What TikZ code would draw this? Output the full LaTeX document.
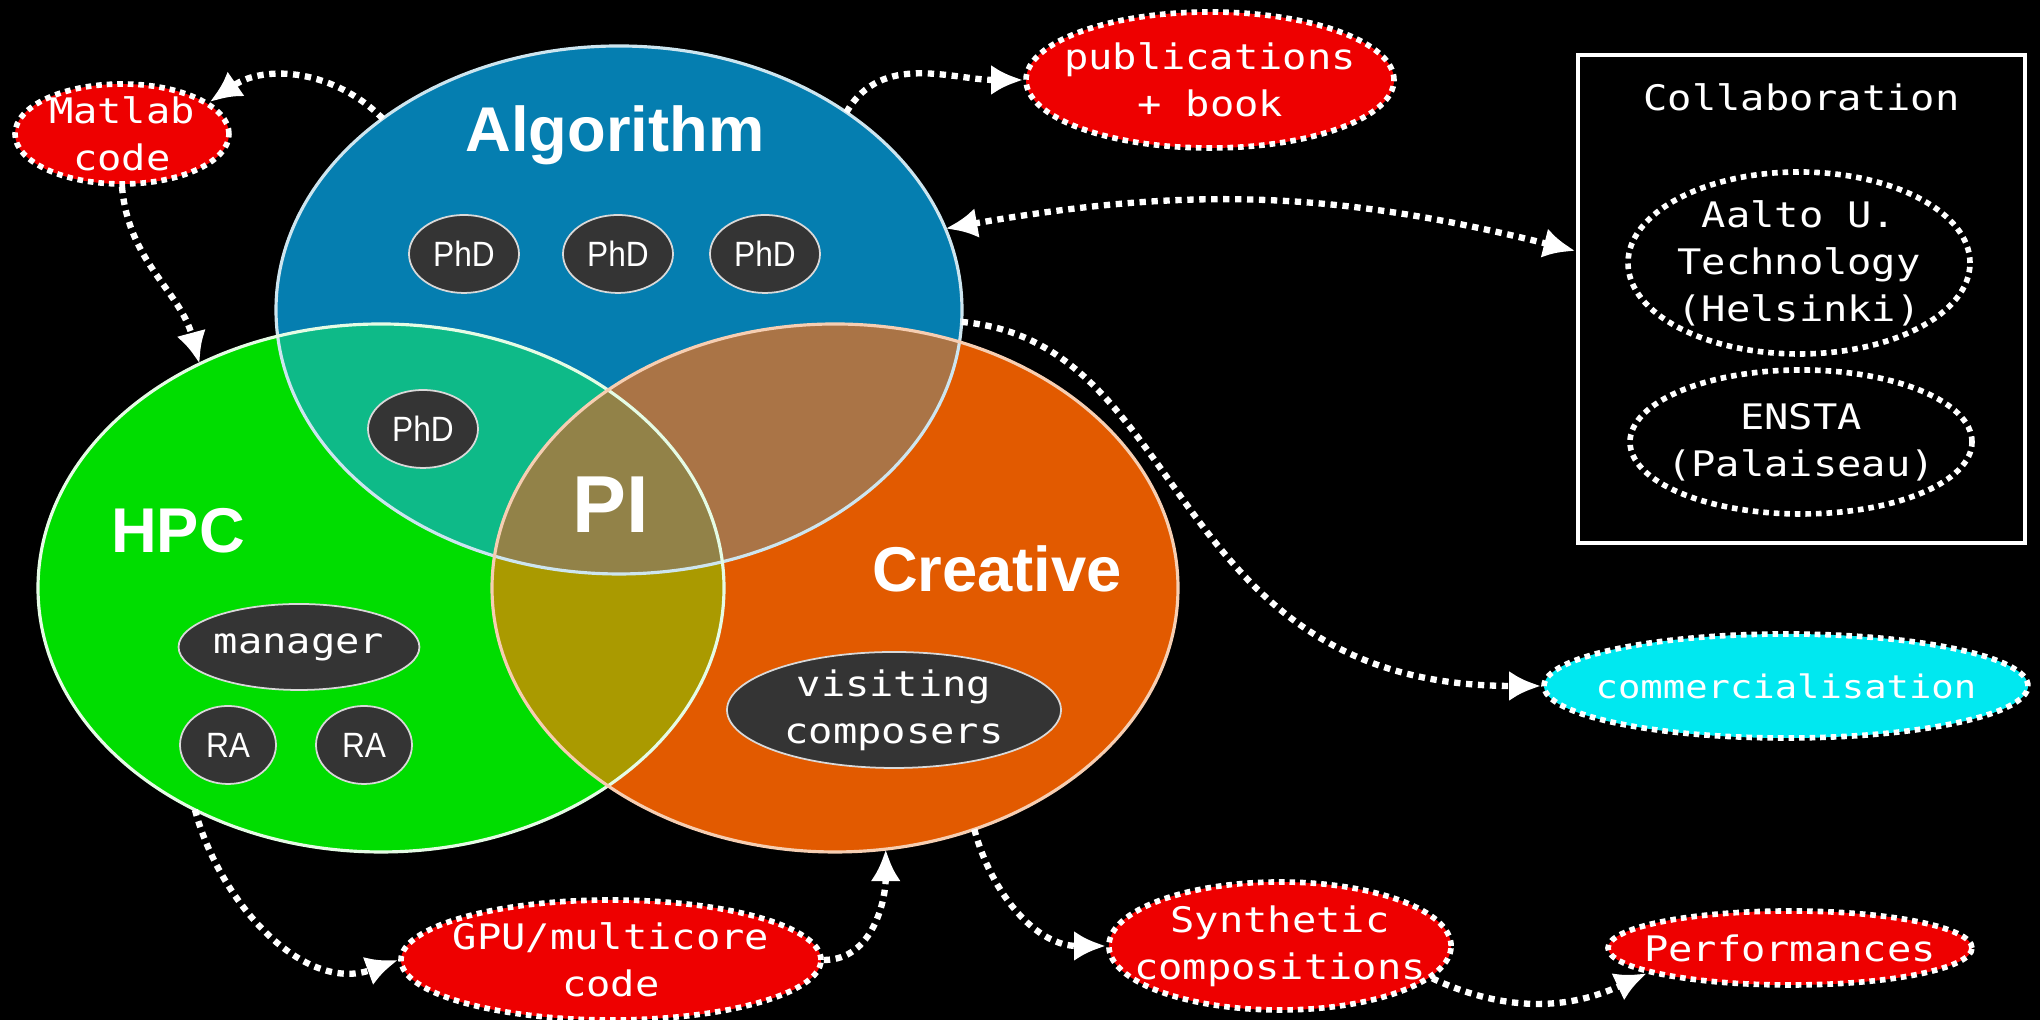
\documentclass[tikz,border=0pt]{standalone}
\usepackage{fontspec}
\setmainfont{Liberation Sans}
\newfontfamily\monofont[FakeStretch=1.15]{DejaVu Sans Mono}
\newfontfamily\narrowfont[FakeStretch=0.9]{Liberation Sans}
\usetikzlibrary{shapes.geometric,arrows.meta,positioning}

\definecolor{algoblue}{RGB}{5,126,176}
\definecolor{hpcgreen}{RGB}{0,221,0}
\definecolor{creaorange}{RGB}{226,90,0}
\definecolor{algohpc}{RGB}{14,186,136}
\definecolor{algocrea}{RGB}{170,116,70}
\definecolor{hpccrea}{RGB}{170,154,0}
\definecolor{allthree}{RGB}{146,130,72}
\definecolor{outred}{RGB}{238,0,0}
\definecolor{outcyan}{RGB}{0,232,240}
\definecolor{memgray}{RGB}{52,52,52}

\newcommand{\monotext}{\monofont\fontsize{10}{13.4}\selectfont}
\newcommand{\algoarea}{(6.19,7.10) ellipse [x radius=3.43, y radius=2.64]}
\newcommand{\hpcarea}{(3.81,4.32) ellipse [x radius=3.43, y radius=2.64]}
\newcommand{\creaarea}{(8.35,4.32) ellipse [x radius=3.43, y radius=2.64]}

\tikzstyle{venn} = [ellipse, inner sep=0, outer sep=0, minimum width=6.86cm, minimum height=5.28cm]
\tikzstyle{setname} = [text=white, font=\fontsize{18}{20}\selectfont\bfseries, anchor=base]
\tikzstyle{member} = [ellipse, fill=memgray, draw=white!70!gray, line width=0.5pt, text=white, inner sep=0, align=center, font=\narrowfont\fontsize{10}{12}\selectfont]
\tikzstyle{phd} = [member, minimum width=1.10cm, minimum height=0.78cm]
\tikzstyle{ra} = [member, minimum width=0.96cm, minimum height=0.78cm]
\tikzstyle{output} = [ellipse, fill=outred, draw=white, line width=1.6pt, dash pattern=on 1.6pt off 1.4pt, text=white, align=center, inner xsep=-0.25cm, inner ysep=-0.1cm, font=\monotext]
\tikzstyle{partner} = [output, fill=none]
\tikzstyle{link} = [white, line width=1.8pt, dash pattern=on 1.8pt off 1.6pt, ->]

\begin{document}
\begin{tikzpicture}[>={Latex[length=3.2mm,width=3mm]}]
\fill[black] (0,0) rectangle (20.4,10.2);
\useasboundingbox (0,0) rectangle (20.4,10.2);

% three areas
\node[venn, fill=algoblue] (algo) at (6.19,7.10) {};
\node[venn, fill=hpcgreen] (hpc) at (3.81,4.32) {};
\node[venn, fill=creaorange] (crea) at (8.35,4.32) {};

\begin{scope}
	\clip \hpcarea;
	\fill[hpccrea] \creaarea;
\end{scope}
\begin{scope}
	\clip \algoarea;
	\fill[algohpc] \hpcarea;
	\fill[algocrea] \creaarea;
	\clip \hpcarea;
	\fill[allthree] \creaarea;
\end{scope}

\draw[white!80!algoblue, line width=0.9pt] \algoarea;
\draw[white!90!hpcgreen, line width=0.9pt] \hpcarea;
\draw[white!70!creaorange, line width=0.9pt] \creaarea;

\node[setname] (algolabel) at (6.15,8.68) {Algorithm};
\node[setname] (hpclabel) at (1.78,4.67) {HPC};
\node[setname] (crealabel) at (9.97,4.28) {Creative};
\node[setname, font=\fontsize{23}{26}\selectfont\bfseries] (pilabel) at (6.11,4.87) {PI};

% people
\node[phd] (phda) at (4.64,7.66) {PhD};
\node[phd] (phdb) at (6.18,7.66) {PhD};
\node[phd] (phdc) at (7.65,7.66) {PhD};
\node[phd] (phdd) at (4.23,5.91) {PhD};
\node[member, font=\monotext, minimum width=2.22cm, minimum height=0.86cm] (manager) at (2.99,3.73) {manager};
\node[ra] (raa) at (2.28,2.75) {RA};
\node[ra] (rab) at (3.64,2.75) {RA};
\node[member, font=\monotext, inner xsep=-0.2cm, minimum width=3.34cm, minimum height=1.16cm] (visiting) at (8.94,3.10) {visiting\\composers};

% outputs
\node[output, minimum width=2.14cm, minimum height=1.0cm] (matlab) at (1.22,8.86) {Matlab\\code};
\node[output, minimum width=3.68cm, minimum height=1.36cm] (pub) at (12.10,9.40) {publications\\+ book};
\node[output, minimum width=4.20cm, minimum height=1.20cm] (gpu) at (6.11,0.60) {GPU/multicore\\code};
\node[output, minimum width=3.40cm, minimum height=1.28cm] (synth) at (12.80,0.74) {Synthetic\\compositions};
\node[output, minimum width=3.64cm, minimum height=0.74cm] (perf) at (17.90,0.72) {Performances};
\node[output, fill=outcyan, font=\monofont\fontsize{9.2}{12}\selectfont, minimum width=4.84cm, minimum height=1.04cm] (comm) at (17.86,3.34) {commercialisation};

% collaboration
\node[draw=white, line width=1.4pt, minimum width=4.47cm, minimum height=4.88cm, inner sep=0] (collab) at (18.015,7.21) {};
\node[text=white, font=\monotext, inner sep=0, below=0.30cm of collab.north] (collabtitle) {Collaboration};
\node[partner, minimum width=3.42cm, minimum height=1.82cm] (aalto) at (17.99,7.57) {Aalto U.\\Technology\\(Helsinki)};
\node[partner, minimum width=3.42cm, minimum height=1.44cm] (ensta) at (18.01,5.78) {ENSTA\\(Palaiseau)};

% links
\draw[link] (algo.141) to[bend right=40] (matlab.20);
\draw[link] (matlab.south) to[out=-85, in=105] (hpc.129);
\draw[link] (algo.41) to[out=60, in=180] (pub.west);
\draw[link, <->] (algo.14) to[bend left=12] (collab.168);
\draw[link] (algo.-2) .. controls +(2.3,-0.2) and +(-3.8,0) .. (comm.west);
\draw[link] (hpc.230) to[out=-75, in=200] (gpu.west);
\draw[link] (gpu.east) to[out=0, in=-90] (crea.-79);
\draw[link] (crea.-60) to[out=-75, in=180] (synth.west);
\draw[link] (synth.-12) to[out=-25, in=-155] (perf.190);
\end{tikzpicture}
\end{document}
